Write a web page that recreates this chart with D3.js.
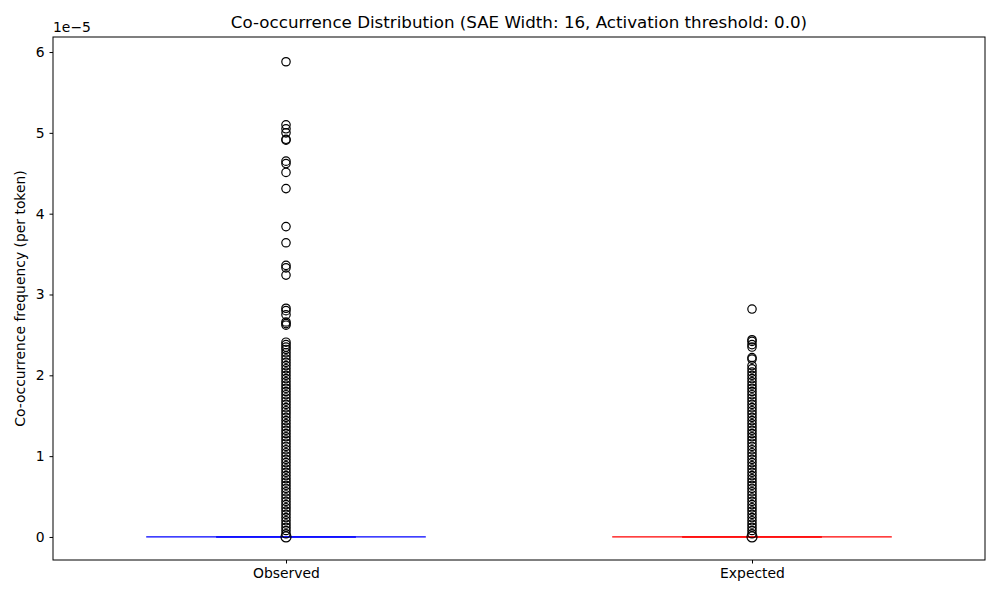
<!DOCTYPE html>
<html><head><meta charset="utf-8">
<script src="https://cdn.jsdelivr.net/npm/d3@7"></script>
<style>body{margin:0;background:#fff}text{font-family:"DejaVu Sans",sans-serif}</style>
</head><body><svg id="c" width="1000" height="600"></svg>
<script>
const categories = ["Observed", "Expected"];
const colors = ["blue", "red"];
const yTicks = [0, 1, 2, 3, 4, 5, 6];
// outlier values in units of 1e-5
const observedOutliers = [0, 0.04, 0.08, 0.12, 0.16, 0.2, 0.24, 0.28, 0.32, 0.36, 0.4, 0.44, 0.48, 0.52, 0.56, 0.6, 0.64, 0.68, 0.72, 0.76, 0.8, 0.84, 0.88, 0.92, 0.96, 1.0, 1.04, 1.08, 1.12, 1.16, 1.2, 1.24, 1.28, 1.32, 1.36, 1.4, 1.44, 1.48, 1.52, 1.56, 1.6, 1.64, 1.68, 1.72, 1.76, 1.8, 1.84, 1.88, 1.92, 1.96, 2.0, 2.04, 2.08, 2.12, 2.16, 2.2, 2.24, 2.28, 2.32, 2.35, 2.38, 2.41,
  2.62, 2.64, 2.66, 2.75, 2.8, 2.83, 3.24, 3.33, 3.36, 3.64, 3.84, 4.31, 4.51, 4.62, 4.65, 4.91, 4.92, 5.0, 5.05, 5.1, 5.88];
const expectedOutliers = [0, 0.04, 0.08, 0.12, 0.16, 0.2, 0.24, 0.28, 0.32, 0.36, 0.4, 0.44, 0.48, 0.52, 0.56, 0.6, 0.64, 0.68, 0.72, 0.76, 0.8, 0.84, 0.88, 0.92, 0.96, 1.0, 1.04, 1.08, 1.12, 1.16, 1.2, 1.24, 1.28, 1.32, 1.36, 1.4, 1.44, 1.48, 1.52, 1.56, 1.6, 1.64, 1.68, 1.72, 1.76, 1.8, 1.84, 1.88, 1.92, 1.96, 2.0, 2.04, 2.08, 2.12, 2.2, 2.22, 2.35, 2.38, 2.42, 2.44, 2.82];
const medians = [0, 0];
const series = [observedOutliers, expectedOutliers];

const svg = d3.select("#c");
const L = 53, R = 985, T = 37, B = 560;
const x = d3.scaleLinear().domain([0.5, 2.5]).range([L, R]);
const y = d3.scaleLinear().domain([-0.285, 6.186]).range([B, T]);

svg.append("text").attr("x", (L + R) / 2).attr("y", 28).attr("text-anchor", "middle").attr("font-size", 16.7)
  .text("Co-occurrence Distribution (SAE Width: 16, Activation threshold: 0.0)");

const ya = svg.append("g").attr("transform", `translate(${L},0)`).call(d3.axisLeft(y).tickValues(yTicks).tickSize(3.5).tickPadding(5).tickFormat(d3.format("d")));
const xa = svg.append("g").attr("transform", `translate(0,${B})`).call(d3.axisBottom(x).tickValues([1, 2]).tickSize(3.5).tickPadding(5).tickFormat(d => categories[d - 1]));
[ya, xa].forEach(a => { a.selectAll("text").attr("font-size", 13.9).attr("fill", "#000").style("font-family", "DejaVu Sans"); a.select(".domain").remove(); });
svg.append("text").attr("x", L).attr("y", 32).attr("font-size", 13.9).text("1e−5");
svg.append("text").attr("transform", `translate(25,${(T + B) / 2}) rotate(-90)`).attr("text-anchor", "middle").attr("font-size", 13.9).text("Co-occurrence frequency (per token)");

series.forEach((vals, i) => {
  const p = i + 1;
  svg.append("line").attr("x1", x(p - 0.3)).attr("x2", x(p + 0.3)).attr("y1", y(medians[i])).attr("y2", y(medians[i])).attr("stroke", colors[i]).attr("stroke-width", 1.2);
  svg.append("line").attr("x1", x(p - 0.15)).attr("x2", x(p + 0.15)).attr("y1", y(medians[i])).attr("y2", y(medians[i])).attr("stroke", colors[i]).attr("stroke-width", 1.6);
  svg.append("g").selectAll("circle").data(vals).join("circle")
    .attr("cx", x(p)).attr("cy", d => y(d)).attr("r", d => d === 0 ? 5 : 4.2)
    .attr("fill", "none").attr("stroke", "#000").attr("stroke-width", 1.2);
});
svg.append("rect").attr("x", L).attr("y", T).attr("width", R - L).attr("height", B - T).attr("fill", "none").attr("stroke", "#000").attr("stroke-width", 1);
</script></body></html>
